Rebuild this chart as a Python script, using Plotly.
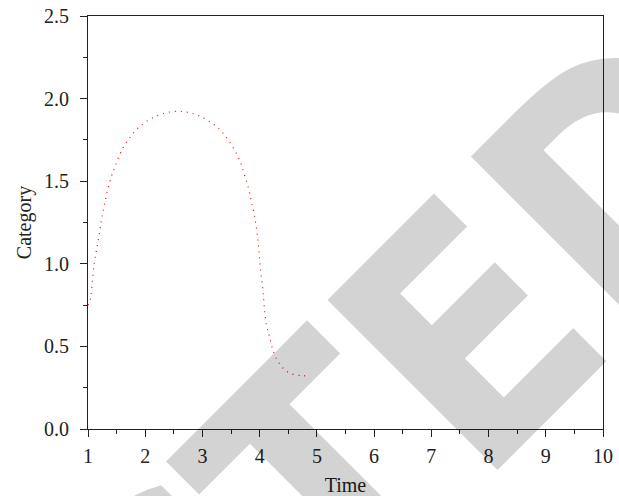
import plotly.graph_objects as go

# curva
tiempo = [1.0, 1.03, 1.11, 1.19, 1.245, 1.315, 1.40, 1.48, 1.57, 1.68, 1.83, 2.0, 2.21,
          2.43, 2.66, 2.89, 3.09, 3.28, 3.43, 3.56, 3.66, 3.73, 3.80, 3.85, 3.90, 3.94,
          3.97, 3.99, 4.02, 4.05, 4.07, 4.09, 4.12, 4.15, 4.18, 4.24, 4.34, 4.51, 4.73, 4.84]
categoria = [0.75, 0.769, 1.003, 1.164, 1.285, 1.406, 1.52, 1.596, 1.673, 1.74, 1.806, 1.857,
             1.897, 1.919, 1.921, 1.903, 1.868, 1.82, 1.76, 1.689, 1.618, 1.542, 1.463,
             1.386, 1.306, 1.225, 1.144, 1.063, 0.946, 0.866, 0.785, 0.704, 0.628, 0.587,
             0.547, 0.468, 0.398, 0.341, 0.323, 0.323]

marca_agua = "RETRACTED"

fig = go.Figure()
fig.add_trace(go.Scatter(x=tiempo, y=categoria, mode="lines", line_shape="spline",
                         line=dict(color="red", width=1.2, dash="1px,5px"),
                         showlegend=False))

fuente = dict(family="Liberation Serif", size=20, color="#222")
eje = dict(showline=True, linecolor="#222", linewidth=1.2, mirror=True,
           ticks="outside", tickcolor="#222", tickwidth=1.2, showgrid=False,
           zeroline=False, tickfont=fuente)

fig.update_xaxes(eje, range=[1, 10], tick0=1, dtick=1, ticklen=7, ticklabelstandoff=2,
                 minor=dict(ticks="outside", ticklen=4, dtick=0.5, tick0=1, tickcolor="#222"),
                 title=dict(text="Time", standoff=12, font=fuente))
fig.update_yaxes(eje, range=[0, 2.5], tick0=0, dtick=0.5, ticklen=7, tickformat=".1f",
                 ticklabelstandoff=7,
                 minor=dict(ticks="outside", ticklen=4, dtick=0.25, tick0=0, tickcolor="#222"),
                 title=dict(text="Category", standoff=6, font=fuente))

fig.add_annotation(text=marca_agua, xref="paper", yref="paper", x=-0.129, y=-0.863,
                   xanchor="center", yanchor="middle", textangle=-45, showarrow=False,
                   font=dict(family="Liberation Sans Narrow, Arial Narrow, DejaVu Sans Condensed",
                             size=330, weight="bold", color="rgba(0,0,0,0.172)"))

fig.update_layout(width=619, height=496,
                  margin=dict(l=88, r=16, t=16, b=67, autoexpand=False),
                  plot_bgcolor="white", paper_bgcolor="white")

fig.write_html("out.html", config={"displayModeBar": False},
               post_script="document.body.style.margin='0';")
